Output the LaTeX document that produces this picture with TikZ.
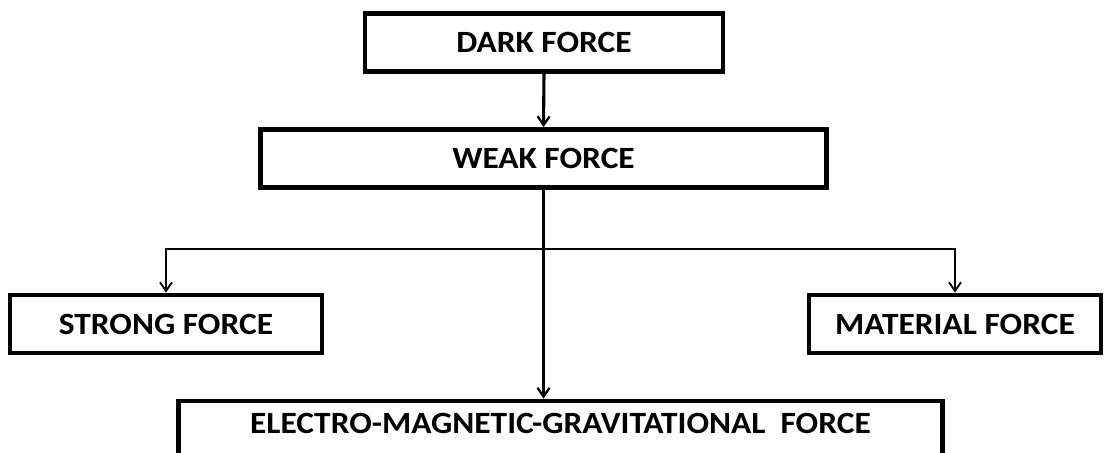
\documentclass[tikz,border=0pt]{standalone}
\usepackage{fontspec}
\setmainfont{Carlito}[FakeStretch=1.08]
\usepackage{tikz}
\usetikzlibrary{positioning,arrows.meta,calc}

\begin{document}
\begin{tikzpicture}[
    x=0.025cm, y=-0.025cm,
    font=\fontsize{22}{26}\selectfont\bfseries,
    forcebox/.style={draw, line width=3.4pt, fill=white, align=center, inner sep=0pt, minimum height=1.45cm},
    mainarr/.style={-{Straight Barb[length=2.2mm, width=3mm, line width=1.6pt]}, line width=2.2pt},
    sidearr/.style={-{Straight Barb[length=2.2mm, width=3mm, line width=1.3pt]}, line width=1.5pt}
]
\clip (0,0) rectangle (1104,453);

% boxes (pixel grid of the original)
\node[forcebox, minimum width=8.95cm] (dark) at (544,42.5) {DARK FORCE};
\node[forcebox, minimum width=14.15cm] (weak) at (543.5,158.5) {WEAK FORCE};
\node[forcebox, minimum width=7.8cm] (strong) at (166,324) {STRONG FORCE};
\node[forcebox, minimum width=7.3cm] (material) at (955,324) {MATERIAL FORCE};
\node[forcebox, minimum width=19.1cm, text depth=0.33cm] (emg) at (560.5,430) {ELECTRO-MAGNETIC-GRAVITATIONAL\ \ FORCE};

% branching point on the central line
\coordinate (split) at (weak.south |- 0,249);

% connectors
\draw[mainarr] (dark.south) -- (weak.north);
\draw[mainarr] (weak.south) -- (weak.south |- emg.north);
\draw[sidearr] (split) -| (strong.north);
\draw[sidearr] (split) -| (material.north);

\end{tikzpicture}
\end{document}
